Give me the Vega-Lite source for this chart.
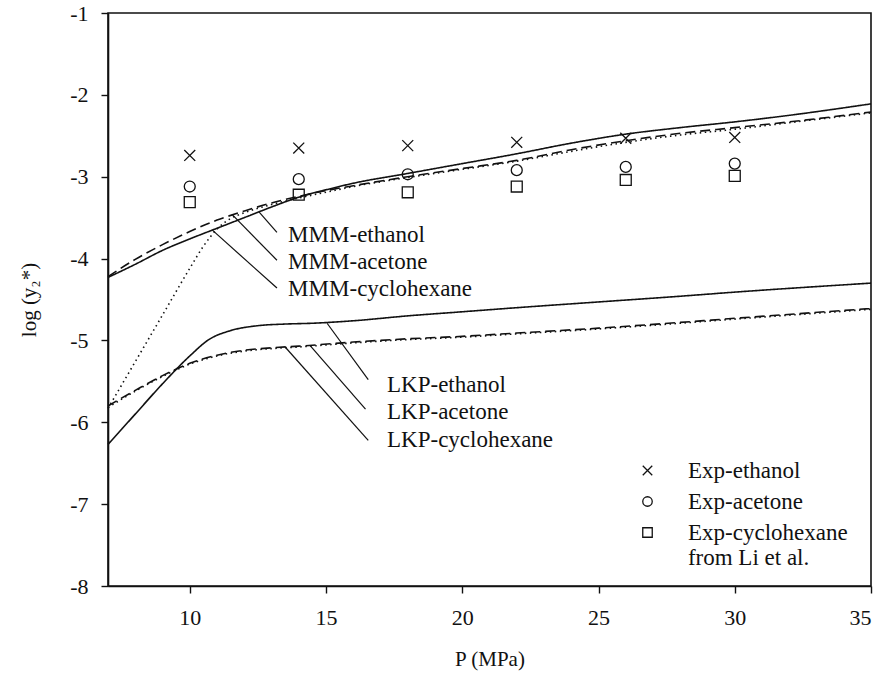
{
  "$schema": "https://vega.github.io/schema/vega-lite/v6.json",
  "width": 763,
  "height": 573,
  "autosize": {"type": "none"},
  "padding": {"left": 108, "top": 13, "right": 19, "bottom": 90},
  "background": "white",
  "config": {
    "font": "Liberation Serif, Times New Roman, serif",
    "view": {"stroke": "#111", "strokeWidth": 1.6},
    "axis": {
      "grid": false,
      "domainColor": "#111",
      "domainWidth": 1.6,
      "tickColor": "#111",
      "tickWidth": 1.4,
      "tickSize": 7,
      "labelFont": "Liberation Serif, Times New Roman, serif",
      "labelFontSize": 22,
      "labelColor": "#111",
      "titleFont": "Liberation Serif, Times New Roman, serif",
      "titleFontSize": 21,
      "titleFontWeight": "normal",
      "titleColor": "#111"
    },
    "legend": {
      "labelFont": "Liberation Serif, Times New Roman, serif",
      "labelFontSize": 23,
      "labelColor": "#111"
    }
  },
  "datasets": {
    "curves": [
      {"model": "MMM", "solvent": "ethanol", "P": 7, "logy": -4.23},
      {"model": "MMM", "solvent": "ethanol", "P": 8, "logy": -4.07},
      {"model": "MMM", "solvent": "ethanol", "P": 9, "logy": -3.90},
      {"model": "MMM", "solvent": "ethanol", "P": 10, "logy": -3.76},
      {"model": "MMM", "solvent": "ethanol", "P": 11, "logy": -3.63},
      {"model": "MMM", "solvent": "ethanol", "P": 12, "logy": -3.50},
      {"model": "MMM", "solvent": "ethanol", "P": 13, "logy": -3.37},
      {"model": "MMM", "solvent": "ethanol", "P": 14, "logy": -3.25},
      {"model": "MMM", "solvent": "ethanol", "P": 15, "logy": -3.16},
      {"model": "MMM", "solvent": "ethanol", "P": 16, "logy": -3.08},
      {"model": "MMM", "solvent": "ethanol", "P": 18, "logy": -2.96},
      {"model": "MMM", "solvent": "ethanol", "P": 20, "logy": -2.84},
      {"model": "MMM", "solvent": "ethanol", "P": 22, "logy": -2.72},
      {"model": "MMM", "solvent": "ethanol", "P": 24, "logy": -2.59},
      {"model": "MMM", "solvent": "ethanol", "P": 26, "logy": -2.48},
      {"model": "MMM", "solvent": "ethanol", "P": 28, "logy": -2.40},
      {"model": "MMM", "solvent": "ethanol", "P": 30, "logy": -2.33},
      {"model": "MMM", "solvent": "ethanol", "P": 32, "logy": -2.25},
      {"model": "MMM", "solvent": "ethanol", "P": 35, "logy": -2.11},

      {"model": "MMM", "solvent": "acetone", "P": 7, "logy": -4.22},
      {"model": "MMM", "solvent": "acetone", "P": 8, "logy": -4.01},
      {"model": "MMM", "solvent": "acetone", "P": 9, "logy": -3.83},
      {"model": "MMM", "solvent": "acetone", "P": 10, "logy": -3.67},
      {"model": "MMM", "solvent": "acetone", "P": 11, "logy": -3.53},
      {"model": "MMM", "solvent": "acetone", "P": 12, "logy": -3.42},
      {"model": "MMM", "solvent": "acetone", "P": 13, "logy": -3.32},
      {"model": "MMM", "solvent": "acetone", "P": 14, "logy": -3.24},
      {"model": "MMM", "solvent": "acetone", "P": 15, "logy": -3.17},
      {"model": "MMM", "solvent": "acetone", "P": 16, "logy": -3.11},
      {"model": "MMM", "solvent": "acetone", "P": 18, "logy": -3.00},
      {"model": "MMM", "solvent": "acetone", "P": 20, "logy": -2.90},
      {"model": "MMM", "solvent": "acetone", "P": 22, "logy": -2.80},
      {"model": "MMM", "solvent": "acetone", "P": 24, "logy": -2.67},
      {"model": "MMM", "solvent": "acetone", "P": 26, "logy": -2.56},
      {"model": "MMM", "solvent": "acetone", "P": 28, "logy": -2.47},
      {"model": "MMM", "solvent": "acetone", "P": 30, "logy": -2.40},
      {"model": "MMM", "solvent": "acetone", "P": 32, "logy": -2.33},
      {"model": "MMM", "solvent": "acetone", "P": 35, "logy": -2.21},

      {"model": "MMM", "solvent": "cyclohexane", "P": 7, "logy": -5.83},
      {"model": "MMM", "solvent": "cyclohexane", "P": 8, "logy": -5.26},
      {"model": "MMM", "solvent": "cyclohexane", "P": 9, "logy": -4.69},
      {"model": "MMM", "solvent": "cyclohexane", "P": 10, "logy": -4.12},
      {"model": "MMM", "solvent": "cyclohexane", "P": 10.5, "logy": -3.85},
      {"model": "MMM", "solvent": "cyclohexane", "P": 11, "logy": -3.64},
      {"model": "MMM", "solvent": "cyclohexane", "P": 11.5, "logy": -3.51},
      {"model": "MMM", "solvent": "cyclohexane", "P": 12, "logy": -3.44},
      {"model": "MMM", "solvent": "cyclohexane", "P": 13, "logy": -3.34},
      {"model": "MMM", "solvent": "cyclohexane", "P": 14, "logy": -3.26},
      {"model": "MMM", "solvent": "cyclohexane", "P": 15, "logy": -3.19},
      {"model": "MMM", "solvent": "cyclohexane", "P": 16, "logy": -3.12},
      {"model": "MMM", "solvent": "cyclohexane", "P": 18, "logy": -3.01},
      {"model": "MMM", "solvent": "cyclohexane", "P": 20, "logy": -2.91},
      {"model": "MMM", "solvent": "cyclohexane", "P": 22, "logy": -2.81},
      {"model": "MMM", "solvent": "cyclohexane", "P": 24, "logy": -2.69},
      {"model": "MMM", "solvent": "cyclohexane", "P": 26, "logy": -2.58},
      {"model": "MMM", "solvent": "cyclohexane", "P": 28, "logy": -2.49},
      {"model": "MMM", "solvent": "cyclohexane", "P": 30, "logy": -2.42},
      {"model": "MMM", "solvent": "cyclohexane", "P": 32, "logy": -2.34},
      {"model": "MMM", "solvent": "cyclohexane", "P": 35, "logy": -2.22},

      {"model": "LKP", "solvent": "ethanol", "P": 7, "logy": -6.27},
      {"model": "LKP", "solvent": "ethanol", "P": 8, "logy": -5.90},
      {"model": "LKP", "solvent": "ethanol", "P": 9, "logy": -5.53},
      {"model": "LKP", "solvent": "ethanol", "P": 10, "logy": -5.19},
      {"model": "LKP", "solvent": "ethanol", "P": 10.7, "logy": -4.99},
      {"model": "LKP", "solvent": "ethanol", "P": 11.5, "logy": -4.88},
      {"model": "LKP", "solvent": "ethanol", "P": 12.5, "logy": -4.82},
      {"model": "LKP", "solvent": "ethanol", "P": 13.5, "logy": -4.80},
      {"model": "LKP", "solvent": "ethanol", "P": 14.5, "logy": -4.79},
      {"model": "LKP", "solvent": "ethanol", "P": 16, "logy": -4.76},
      {"model": "LKP", "solvent": "ethanol", "P": 18, "logy": -4.70},
      {"model": "LKP", "solvent": "ethanol", "P": 20, "logy": -4.65},
      {"model": "LKP", "solvent": "ethanol", "P": 22, "logy": -4.60},
      {"model": "LKP", "solvent": "ethanol", "P": 25, "logy": -4.53},
      {"model": "LKP", "solvent": "ethanol", "P": 28, "logy": -4.46},
      {"model": "LKP", "solvent": "ethanol", "P": 30, "logy": -4.41},
      {"model": "LKP", "solvent": "ethanol", "P": 35, "logy": -4.30},

      {"model": "LKP", "solvent": "acetone", "P": 7, "logy": -5.80},
      {"model": "LKP", "solvent": "acetone", "P": 8, "logy": -5.61},
      {"model": "LKP", "solvent": "acetone", "P": 9, "logy": -5.43},
      {"model": "LKP", "solvent": "acetone", "P": 10, "logy": -5.28},
      {"model": "LKP", "solvent": "acetone", "P": 11, "logy": -5.18},
      {"model": "LKP", "solvent": "acetone", "P": 12, "logy": -5.12},
      {"model": "LKP", "solvent": "acetone", "P": 13, "logy": -5.09},
      {"model": "LKP", "solvent": "acetone", "P": 14, "logy": -5.07},
      {"model": "LKP", "solvent": "acetone", "P": 16, "logy": -5.02},
      {"model": "LKP", "solvent": "acetone", "P": 18, "logy": -4.98},
      {"model": "LKP", "solvent": "acetone", "P": 20, "logy": -4.95},
      {"model": "LKP", "solvent": "acetone", "P": 22, "logy": -4.91},
      {"model": "LKP", "solvent": "acetone", "P": 25, "logy": -4.85},
      {"model": "LKP", "solvent": "acetone", "P": 28, "logy": -4.78},
      {"model": "LKP", "solvent": "acetone", "P": 30, "logy": -4.73},
      {"model": "LKP", "solvent": "acetone", "P": 35, "logy": -4.61},

      {"model": "LKP", "solvent": "cyclohexane", "P": 7, "logy": -5.82},
      {"model": "LKP", "solvent": "cyclohexane", "P": 8, "logy": -5.62},
      {"model": "LKP", "solvent": "cyclohexane", "P": 9, "logy": -5.44},
      {"model": "LKP", "solvent": "cyclohexane", "P": 10, "logy": -5.29},
      {"model": "LKP", "solvent": "cyclohexane", "P": 11, "logy": -5.19},
      {"model": "LKP", "solvent": "cyclohexane", "P": 12, "logy": -5.13},
      {"model": "LKP", "solvent": "cyclohexane", "P": 13, "logy": -5.10},
      {"model": "LKP", "solvent": "cyclohexane", "P": 14, "logy": -5.08},
      {"model": "LKP", "solvent": "cyclohexane", "P": 16, "logy": -5.03},
      {"model": "LKP", "solvent": "cyclohexane", "P": 18, "logy": -4.99},
      {"model": "LKP", "solvent": "cyclohexane", "P": 20, "logy": -4.96},
      {"model": "LKP", "solvent": "cyclohexane", "P": 22, "logy": -4.92},
      {"model": "LKP", "solvent": "cyclohexane", "P": 25, "logy": -4.86},
      {"model": "LKP", "solvent": "cyclohexane", "P": 28, "logy": -4.79},
      {"model": "LKP", "solvent": "cyclohexane", "P": 30, "logy": -4.74},
      {"model": "LKP", "solvent": "cyclohexane", "P": 35, "logy": -4.62}
    ],
    "exp": [
      {"series": "Exp-ethanol", "P": 10, "logy": -2.74},
      {"series": "Exp-ethanol", "P": 14, "logy": -2.65},
      {"series": "Exp-ethanol", "P": 18, "logy": -2.62},
      {"series": "Exp-ethanol", "P": 22, "logy": -2.58},
      {"series": "Exp-ethanol", "P": 26, "logy": -2.53},
      {"series": "Exp-ethanol", "P": 30, "logy": -2.52},
      {"series": "Exp-acetone", "P": 10, "logy": -3.12},
      {"series": "Exp-acetone", "P": 14, "logy": -3.03},
      {"series": "Exp-acetone", "P": 18, "logy": -2.97},
      {"series": "Exp-acetone", "P": 22, "logy": -2.92},
      {"series": "Exp-acetone", "P": 26, "logy": -2.88},
      {"series": "Exp-acetone", "P": 30, "logy": -2.84},
      {"series": "Exp-cyclohexane", "P": 10, "logy": -3.31},
      {"series": "Exp-cyclohexane", "P": 14, "logy": -3.22},
      {"series": "Exp-cyclohexane", "P": 18, "logy": -3.19},
      {"series": "Exp-cyclohexane", "P": 22, "logy": -3.12},
      {"series": "Exp-cyclohexane", "P": 26, "logy": -3.04},
      {"series": "Exp-cyclohexane", "P": 30, "logy": -2.99}
    ],
    "leaders": [
      {"x1": 12.54, "y1": -3.43, "x2": 13.20, "y2": -3.68},
      {"x1": 11.55, "y1": -3.46, "x2": 13.20, "y2": -4.02},
      {"x1": 10.82, "y1": -3.65, "x2": 13.20, "y2": -4.36},
      {"x1": 15.04, "y1": -4.79, "x2": 16.55, "y2": -5.48},
      {"x1": 14.41, "y1": -5.06, "x2": 16.45, "y2": -5.84},
      {"x1": 13.50, "y1": -5.08, "x2": 16.55, "y2": -6.22}
    ],
    "labels": [
      {"text": "MMM-ethanol", "P": 13.61, "logy": -3.71},
      {"text": "MMM-acetone", "P": 13.61, "logy": -4.04},
      {"text": "MMM-cyclohexane", "P": 13.61, "logy": -4.37},
      {"text": "LKP-ethanol", "P": 17.24, "logy": -5.54},
      {"text": "LKP-acetone", "P": 17.24, "logy": -5.87},
      {"text": "LKP-cyclohexane", "P": 17.24, "logy": -6.22},
      {"text": "from Li et al.", "P": 28.28, "logy": -7.66}
    ]
  },
  "layer": [
    {
      "data": {"name": "curves"},
      "mark": {"type": "line", "interpolate": "monotone", "strokeWidth": 1.6, "color": "#111"},
      "encoding": {
        "x": {
          "field": "P", "type": "quantitative",
          "scale": {"domain": [7, 35], "nice": false, "zero": false},
          "axis": {
            "values": [10, 15, 20, 25, 30, 35],
            "labelExpr": "datum.value + ''",
            "title": "P (MPa)",
            "labelPadding": 14,
            "titlePadding": 20
          }
        },
        "y": {
          "field": "logy", "type": "quantitative",
          "scale": {"domain": [-8, -1], "nice": false, "zero": false},
          "axis": {
            "values": [-8, -7, -6, -5, -4, -3, -2, -1],
            "labelExpr": "datum.value + ''",
            "title": "log (y₂*)",
            "labelPadding": 13,
            "titlePadding": 30
          }
        },
        "strokeDash": {
          "field": "solvent", "type": "nominal",
          "scale": {"domain": ["ethanol", "acetone", "cyclohexane"], "range": [[1, 0], [10, 5], [1.5, 3.5]]},
          "legend": null
        },
        "detail": {"field": "model", "type": "nominal"}
      }
    },
    {
      "data": {"name": "leaders"},
      "mark": {"type": "rule", "strokeWidth": 1.2, "color": "#111"},
      "encoding": {
        "x": {"field": "x1", "type": "quantitative"},
        "y": {"field": "y1", "type": "quantitative"},
        "x2": {"field": "x2"},
        "y2": {"field": "y2"}
      }
    },
    {
      "data": {"name": "labels"},
      "mark": {"type": "text", "align": "left", "baseline": "middle", "fontSize": 23, "color": "#111"},
      "encoding": {
        "x": {"field": "P", "type": "quantitative"},
        "y": {"field": "logy", "type": "quantitative"},
        "text": {"field": "text"}
      }
    },
    {
      "data": {"name": "exp"},
      "mark": {"type": "point", "filled": false, "size": 120, "strokeWidth": 1.3, "color": "#111", "opacity": 1},
      "encoding": {
        "x": {"field": "P", "type": "quantitative"},
        "y": {"field": "logy", "type": "quantitative"},
        "shape": {
          "field": "series", "type": "nominal",
          "scale": {
            "domain": ["Exp-ethanol", "Exp-acetone", "Exp-cyclohexane"],
            "range": ["M-1,-1L1,1M1,-1L-1,1", "circle", "square"]
          },
          "legend": {
            "title": null,
            "orient": "none",
            "legendX": 528,
            "legendY": 446,
            "padding": 0,
            "labelOffset": 29,
            "rowPadding": 7,
            "symbolSize": 90,
            "symbolStrokeWidth": 1.3,
            "symbolStrokeColor": "#111"
          }
        }
      }
    }
  ]
}
